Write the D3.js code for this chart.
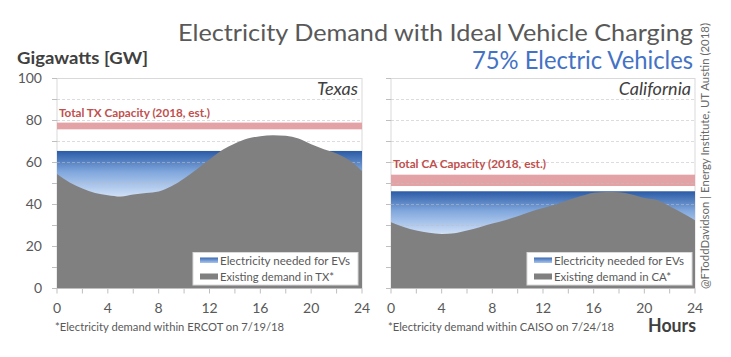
<!DOCTYPE html>
<html><head><meta charset="utf-8">
<script src="https://cdn.jsdelivr.net/npm/d3@7"></script>
<style>
html,body{margin:0;padding:0;background:#fff;}
svg{display:block;font-family:Lato,"Open Sans",sans-serif;}
</style></head>
<body><svg id="chart" width="731" height="357"></svg>
<script>
// ---- data ----
const hours = d3.range(0, 25);
const txDemand = [54.5, 50.5, 47.6, 45.5, 44.4, 43.8, 44.8, 45.5, 46.2, 48.7, 52.4, 56.8, 61.4, 65.9, 69.0, 71.4, 72.5, 73.0, 72.7, 71.4, 68.7, 66.3, 64.3, 61.1, 56.0];
const caDemand = [31.6, 29.3, 27.6, 26.5, 26.0, 26.3, 27.6, 29.2, 30.9, 32.5, 34.4, 36.5, 38.3, 40.0, 42.1, 44.0, 45.6, 46.0, 45.8, 44.8, 43.1, 42.1, 39.2, 36.0, 32.5];
const regions = ["Texas", "California"];
const evTotal = [65.5, 46.3];          // demand level with ideal EV charging
const capLow = [75.8, 48.8];           // capacity band
const capHigh = [79.0, 54.2];
const capLabels = ["Total TX Capacity (2018, est.)", "Total CA Capacity (2018, est.)"];
const legendEV = ["Electricity needed for EVs", "Electricity needed for EVs"];
const legendDemand = ["Existing demand in TX*", "Existing demand in CA*"];
const footnotes = ["*Electricity demand within ERCOT on 7/19/18", "*Electricity demand within CAISO on 7/24/18"];
const yTicks = [0, 20, 40, 60, 80, 100];
const xTicks = [0, 4, 8, 12, 16, 20, 24];
const demands = [txDemand, caDemand];

const svg = d3.select("#chart");
const defs = svg.append("defs");
const grad = defs.append("linearGradient").attr("id", "evGrad")
  .attr("x1", 0).attr("y1", 0).attr("x2", 0).attr("y2", 1);
grad.append("stop").attr("offset", "0%").attr("stop-color", "#2B5BA6");
grad.append("stop").attr("offset", "45%").attr("stop-color", "#7FA6DC");
grad.append("stop").attr("offset", "100%").attr("stop-color", "#CFE0F7");
const gradL = defs.append("linearGradient").attr("id", "evGradL")
  .attr("x1", 0).attr("y1", 0).attr("x2", 0).attr("y2", 1);
gradL.append("stop").attr("offset", "0%").attr("stop-color", "#3A6AB4");
gradL.append("stop").attr("offset", "100%").attr("stop-color", "#A9C5EC");

// ---- titles ----
svg.append("text").attr("x", 693).attr("y", 41).attr("text-anchor", "end")
  .attr("font-size", 24).attr("fill", "#595959")
  .attr("textLength", 515).attr("lengthAdjust", "spacingAndGlyphs")
  .text("Electricity Demand with Ideal Vehicle Charging");
svg.append("text").attr("x", 693).attr("y", 69).attr("text-anchor", "end")
  .attr("font-size", 25).attr("fill", "#4472C4")
  .attr("textLength", 221).attr("lengthAdjust", "spacingAndGlyphs")
  .text("75% Electric Vehicles");
svg.append("text").attr("x", 17).attr("y", 64).attr("font-size", 17)
  .attr("font-weight", "bold").attr("fill", "#404040")
  .attr("textLength", 131).attr("lengthAdjust", "spacingAndGlyphs")
  .text("Gigawatts [GW]");
svg.append("text").attr("x", 696).attr("y", 332).attr("text-anchor", "end")
  .attr("font-size", 18).attr("font-weight", "bold").attr("fill", "#404040")
  .attr("textLength", 48).attr("lengthAdjust", "spacingAndGlyphs")
  .text("Hours");
svg.append("text").attr("transform", "translate(709,289) rotate(-90)")
  .attr("font-size", 11.5).attr("fill", "#6a6a6a")
  .attr("textLength", 266).attr("lengthAdjust", "spacingAndGlyphs")
  .text("@FToddDavidson  |  Energy Institute, UT Austin (2018)");

// ---- panels ----
const panelX = [[57, 362], [391, 695]];
const y = d3.scaleLinear().domain([0, 100]).range([288.5, 78.5]);

panelX.forEach((px, i) => {
  const x = d3.scaleLinear().domain([0, 24]).range(px);
  const g = svg.append("g");
  const dem = demands[i];

  // frame
  g.append("rect").attr("x", px[0]).attr("y", y(100))
    .attr("width", px[1] - px[0]).attr("height", y(0) - y(100))
    .attr("fill", "#fff").attr("stroke", "#D9D9D9").attr("stroke-width", 1);

  // capacity band
  g.append("rect").attr("x", px[0]).attr("y", y(capHigh[i]))
    .attr("width", px[1] - px[0]).attr("height", y(capLow[i]) - y(capHigh[i]))
    .attr("fill", "#E3A3A6");

  // EV area (from min demand up to ideal charging level)
  const minD = d3.min(dem);
  g.append("rect").attr("x", px[0]).attr("y", y(evTotal[i]))
    .attr("width", px[1] - px[0]).attr("height", y(minD) - y(evTotal[i]))
    .attr("fill", "url(#evGrad)");

  // gridlines
  g.selectAll(".grid").data(d3.range(10, 100, 10)).join("line")
    .attr("x1", px[0]).attr("x2", px[1])
    .attr("y1", d => y(d)).attr("y2", d => y(d))
    .attr("stroke", "#BFBFBF").attr("stroke-opacity", 0.55)
    .attr("stroke-dasharray", "3,2");

  // existing demand area
  const area = d3.area().x((d, j) => x(hours[j])).y0(y(0)).y1(d => y(d))
    .curve(d3.curveMonotoneX);
  g.append("path").datum(dem).attr("d", area).attr("fill", "#808080");

  // axis line & ticks
  g.append("line").attr("x1", px[0]).attr("x2", px[1])
    .attr("y1", y(0)).attr("y2", y(0)).attr("stroke", "#BFBFBF");
  g.selectAll(".xt").data(d3.range(0, 25, 2)).join("line")
    .attr("x1", d => x(d)).attr("x2", d => x(d))
    .attr("y1", y(0)).attr("y2", y(0) + 5).attr("stroke", "#BFBFBF");
  g.selectAll(".yt").data(d3.range(0, 101, 10)).join("line")
    .attr("x1", px[0] - 5).attr("x2", px[0])
    .attr("y1", d => y(d)).attr("y2", d => y(d)).attr("stroke", "#BFBFBF");

  // x tick labels
  g.selectAll(".xl").data(xTicks).join("text")
    .attr("x", d => x(d)).attr("y", 313).attr("text-anchor", "middle")
    .attr("font-size", 14).attr("fill", "#595959").text(d => d);

  // region label
  g.append("text").attr("x", px[1] - 4).attr("y", 95).attr("text-anchor", "end")
    .attr("font-size", 18).attr("font-style", "italic").attr("fill", "#404040")
    .text(regions[i]);

  // capacity label
  const capLab = g.append("text").attr("x", px[0] + 2)
    .attr("y", i === 0 ? 117 : 168)
    .attr("font-size", 11.5).attr("font-weight", "bold").attr("fill", "#C0504D")
    .attr("textLength", i === 0 ? 151 : 153).attr("lengthAdjust", "spacingAndGlyphs")
    .text(capLabels[i]);

  // legend
  const lx = i === 0 ? 193 : 527;
  const lg = g.append("g");
  lg.append("rect").attr("x", lx).attr("y", 252.5).attr("width", 165).attr("height", 32.5)
    .attr("fill", "#fff").attr("stroke", "#D9D9D9");
  lg.append("rect").attr("x", lx + 7).attr("y", 257.5).attr("width", 18).attr("height", 5.5)
    .attr("fill", "url(#evGradL)");
  lg.append("rect").attr("x", lx + 7).attr("y", 273.5).attr("width", 18).attr("height", 6)
    .attr("fill", "#808080");
  lg.append("text").attr("x", lx + 27).attr("y", 264.5).attr("font-size", 11.5)
    .attr("fill", "#595959").attr("textLength", 130).attr("lengthAdjust", "spacingAndGlyphs")
    .text(legendEV[i]);
  lg.append("text").attr("x", lx + 27).attr("y", 281).attr("font-size", 11.5)
    .attr("fill", "#595959").attr("textLength", i === 0 ? 114 : 117).attr("lengthAdjust", "spacingAndGlyphs")
    .text(legendDemand[i]);

  // footnote
  g.append("text").attr("x", i === 0 ? 55 : 388).attr("y", 331)
    .attr("font-size", 11.5).attr("fill", "#595959")
    .attr("textLength", i === 0 ? 229 : 226).attr("lengthAdjust", "spacingAndGlyphs")
    .text(footnotes[i]);
});

// y tick labels (left panel only)
svg.selectAll(".yl").data(yTicks).join("text")
  .attr("x", 42).attr("y", d => y(d)).attr("dy", "0.35em")
  .attr("text-anchor", "end").attr("font-size", 14).attr("fill", "#595959")
  .text(d => d);
</script></body></html>
